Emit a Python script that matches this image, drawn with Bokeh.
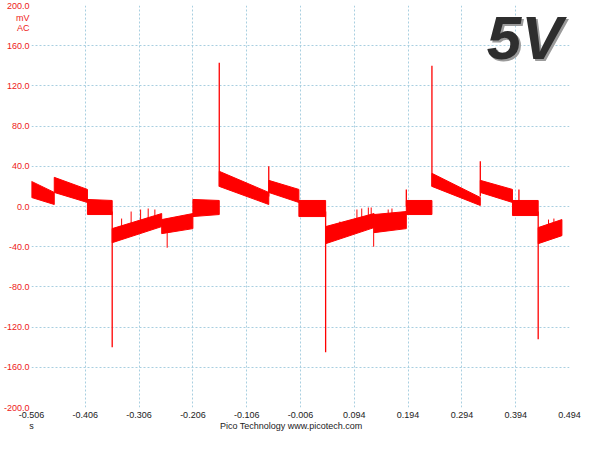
from bokeh.plotting import figure
from bokeh.models import Range1d, FixedTicker, Label
from bokeh.embed import file_html
from bokeh.resources import INLINE

# ---- data (time in s, values in mV) ----
seg_start = [-0.506, -0.4637, -0.402, -0.356, -0.264, -0.206, -0.157, -0.065,
             -0.009, 0.0407, 0.1307, 0.1907, 0.2383, 0.3282, 0.388, 0.4358]
seg_end = [-0.4637, -0.402, -0.356, -0.264, -0.206, -0.157, -0.065, -0.009,
           0.0407, 0.1307, 0.1907, 0.2383, 0.3282, 0.388, 0.4358, 0.4799]
top_start = [25, 29, 7, -22, -13, 7, 35, 26, 6, -20, -8, 6, 33, 26, 6, -21]
top_end = [14, 17, 6, -7, -7, 6, 14, 17, 6, -7, -5, 6, 9, 17, 6, -13]
bot_start = [9, 14, -8, -36, -27, -10, 20, 14, -10, -37, -26, -8, 20, 14, -9, -37]
bot_end = [2, 4, -8, -20, -22, -8, 2, 4, -10, -21, -22, -8, 1, 4, -9, -29]

spike_t = [-0.356, -0.157, -0.065, 0.0407, 0.1907, 0.2383, 0.3282, 0.4358, 0.400]
spike_base = [-5, 20, 10, -5, 0, 20, 10, -5, 0]
spike_peak = [-140, 143, 40, -145, 17, 140, 45, -132, 17]

glitch_t = [-0.3385, -0.3208, -0.3032, -0.2891, -0.2767, -0.2538,
            0.0672, 0.0989, 0.1078, 0.1201, 0.1254, 0.1300, 0.157, 0.164,
            0.455, 0.465]
glitch_lo = [-25, -20, -20, -20, -15, -41, -25, -20, -20, -15, -15, -40,
             -15, -15, -25, -25]
glitch_hi = [-12, -5, -3, -2, -3, -15, -15, -3, -2, -1, -1, -10, -3, -2,
             -13, -12]

xticks = [-0.506, -0.406, -0.306, -0.206, -0.106, -0.006, 0.094, 0.194,
          0.294, 0.394, 0.494]
xtick_labels = ["-0.506", "-0.406", "-0.306", "-0.206", "-0.106", "-0.006",
                "0.094", "0.194", "0.294", "0.394", "0.494"]
yticks = [-200, -160, -120, -80, -40, 0, 40, 80, 120, 160, 200]
ytick_labels = ["-200.0", "-160.0", "-120.0", "-80.0", "-40.0", "0.0",
                "40.0", "80.0", "120.0", "160.0", "200.0"]
unit_labels = ["mV", "AC"]
time_unit = "s"
footer = "Pico Technology  www.picotech.com"

small_font = "Liberation Sans"

# ---- figure ----
p = figure(width=584, height=434, output_backend="svg", toolbar_location=None,
           x_range=Range1d(-0.506, 0.494), y_range=Range1d(-200, 200),
           min_border_left=0, min_border_right=15, min_border_top=5,
           min_border_bottom=0)
p.outline_line_color = None
p.background_fill_color = "white"
p.border_fill_color = "white"

band_xs = [[s, e, e, s] for s, e in zip(seg_start, seg_end)]
band_ys = [[ts, te, be, bs] for ts, te, bs, be in
           zip(top_start, top_end, bot_start, bot_end)]
p.patches(xs=band_xs, ys=band_ys, fill_color="#ff0000", line_color="#ff0000",
          line_width=1)
p.segment(x0=spike_t, y0=spike_base, x1=spike_t, y1=spike_peak,
          line_color="#ff0000", line_width=1.3)
p.segment(x0=glitch_t, y0=glitch_lo, x1=glitch_t, y1=glitch_hi,
          line_color="#ff0000", line_width=1)

# axes
for ax in (p.xaxis[0], p.yaxis[0]):
    ax.axis_line_color = None
    ax.major_tick_line_color = None
    ax.minor_tick_line_color = None
    ax.major_tick_out = 0
    ax.major_tick_in = 0
    ax.minor_tick_out = 0
    ax.minor_tick_in = 0
    ax.axis_label_standoff = 0
    ax.axis_label_text_font_size = "0px"
    ax.major_label_text_font = small_font
    ax.major_label_text_font_size = "9px"
    ax.major_label_standoff = 2

# x axis: tick labels, with the unit "s" and the footer on a second line
foot_pos = -0.021
x_lab = list(xtick_labels)
x_lab[0] = x_lab[0] + "\n" + time_unit
p.xaxis[0].major_label_standoff = 2
p.xaxis[0].major_label_text_line_height = 1.15
p.xaxis[0].ticker = FixedTicker(ticks=xticks + [foot_pos])
p.xaxis[0].major_label_overrides = dict(zip(xticks + [foot_pos],
                                            x_lab + [" \n" + footer]))
p.xaxis[0].major_label_text_color = "#222222"

unit_pos = [yticks[-1] - 12, yticks[-1] - 22]
p.yaxis[0].ticker = FixedTicker(ticks=yticks + unit_pos)
p.yaxis[0].major_label_overrides = dict(zip(yticks + unit_pos,
                                            ytick_labels + unit_labels))
p.yaxis[0].major_label_text_color = "#ee2020"

p.xgrid[0].ticker = FixedTicker(ticks=xticks)
p.ygrid[0].ticker = FixedTicker(ticks=yticks)
for g in (p.xgrid[0], p.ygrid[0]):
    g.grid_line_color = "#a8cfe0"
    g.grid_line_dash = "2 2"
    g.grid_line_width = 1

lab_font = "Liberation Sans"
p.add_layout(Label(x=0.34, y=168, x_offset=2, y_offset=-2, text="5V",
                   text_align="left", text_baseline="alphabetic",
                   text_color="#9a9a9a", text_font=lab_font,
                   text_font_style="bold italic", text_font_size="62px"))
p.add_layout(Label(x=0.34, y=168, text="5V",
                   text_align="left", text_baseline="alphabetic",
                   text_color="#2e2e2e", text_font=lab_font,
                   text_font_style="bold italic", text_font_size="62px"))

open("out.html", "w").write(file_html(p, INLINE))
